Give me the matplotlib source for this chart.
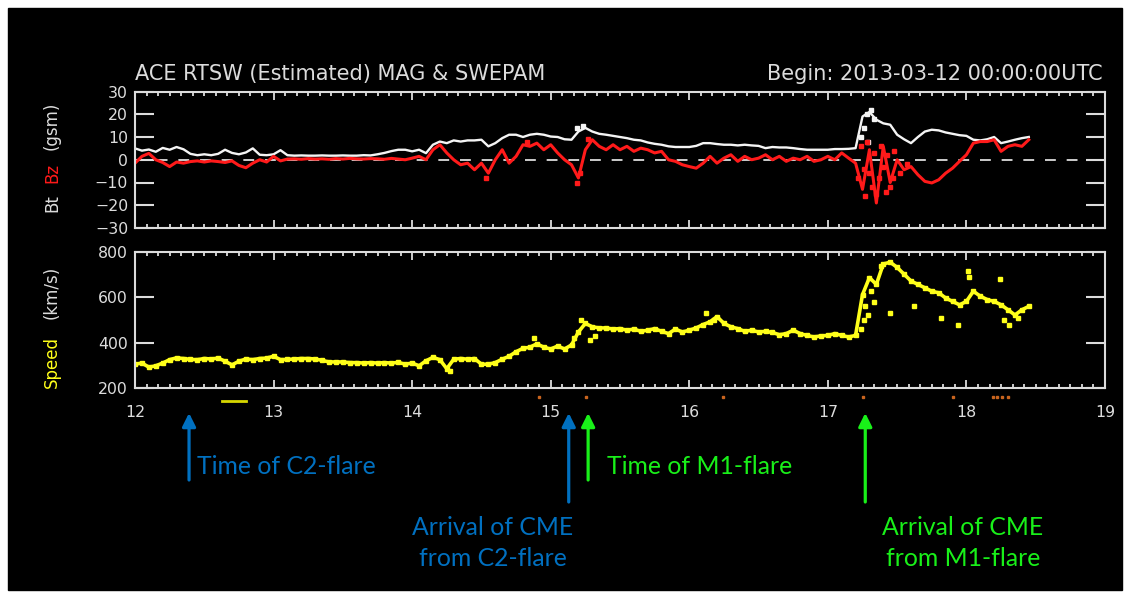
import numpy as np
import matplotlib.pyplot as plt
from matplotlib.patches import Rectangle
from matplotlib.ticker import MultipleLocator
from matplotlib.transforms import blended_transform_factory

# sample times: every 0.05 day from 2013-03-12 00:00
t_day = 12 + np.arange(130) / 20

bt = [5.0, 4.0, 4.5, 3.5, 5.2, 4.4, 5.6, 4.6, 2.6, 2.0,
      2.4, 2.0, 2.6, 4.4, 3.0, 2.4, 3.2, 5.0, 2.2, 2.0,
      2.4, 4.2, 2.0, 1.8, 1.9, 1.8, 1.8, 1.9, 1.8, 1.8,
      1.9, 1.8, 1.8, 2.0, 1.9, 2.4, 3.0, 3.8, 4.4, 4.4,
      3.7, 4.4, 2.9, 6.6, 8.0, 7.3, 8.5, 8.0, 8.5, 8.5,
      8.8, 5.9, 7.3, 9.5, 11.0, 11.0, 10.0, 11.0, 11.4, 11.0,
      10.2, 10.0, 9.0, 8.8, 12.4, 14.0, 12.4, 11.4, 11.0, 10.5,
      10.0, 9.5, 8.8, 8.5, 7.6, 7.0, 6.6, 5.9, 5.6, 5.6,
      5.6, 6.1, 7.3, 7.3, 6.9, 6.6, 6.6, 6.3, 6.6, 6.3,
      6.1, 5.1, 5.6, 5.4, 5.4, 5.1, 4.7, 4.4, 4.4, 4.4,
      4.4, 4.7, 4.7, 4.8, 5.1, 19.0, 21.0, 17.6, 16.0, 15.4,
      11.0, 9.0, 7.3, 10.0, 12.4, 13.2, 12.9, 12.0, 11.4, 10.8,
      10.5, 8.8, 8.5, 9.0, 10.0, 7.3, 8.0, 8.8, 9.5, 10.0]

bz = [-1.5, 1.5, 2.8, 0.0, -1.2, -3.0, -1.0, -1.5, -0.8, -0.5,
      -1.0, -0.5, -0.8, -1.2, -0.5, -2.5, -3.5, -1.5, 0.0, -1.0,
      1.5, -0.5, 0.3, 0.4, 0.2, 0.5, 0.3, 0.4, 0.2, 0.5,
      0.3, 0.6, 0.4, 0.3, 0.5, 0.4, 0.2, 0.6, 0.3, 0.0,
      0.7, 1.5, 0.0, 4.4, 6.6, 3.0, 0.0, -2.2, -1.5, -4.4,
      -1.5, -5.9, 0.0, 4.4, -1.5, 1.5, 6.6, 5.9, 7.3, 4.4,
      6.6, 3.0, 0.0, -2.2, -8.0, 4.4, 8.8, 5.9, 4.4, 6.6,
      4.4, 5.9, 3.7, 5.1, 4.4, 3.0, 3.7, 0.0, -0.7, -2.2,
      -3.0, -3.7, -1.5, 1.5, -1.5, 0.7, 2.2, -0.7, 1.5, 0.0,
      0.7, 2.2, 0.0, 1.5, -0.7, 0.7, 0.0, 1.5, -0.7, 0.0,
      1.5, 0.0, 3.0, 0.7, -1.5, -13.0, 4.4, -19.0, 5.9, -10.0,
      0.0, -4.4, -3.0, -6.6, -9.5, -10.2, -8.8, -5.9, -3.7, -0.7,
      2.2, 7.3, 8.0, 8.0, 8.8, 3.7, 5.9, 6.6, 5.9, 8.8]

speed = [305, 310, 292, 298, 310, 325, 333, 330, 326, 325,
         330, 328, 332, 318, 302, 318, 328, 325, 330, 332,
         340, 325, 326, 328, 330, 330, 328, 322, 315, 315,
         315, 312, 312, 310, 312, 310, 312, 310, 313, 305,
         310, 298, 320, 335, 325, 285, 327, 330, 327, 330,
         305, 305, 312, 327, 340, 360, 375, 380, 395, 380,
         372, 385, 372, 390, 447, 485, 470, 465, 465, 460,
         462, 455, 460, 450, 455, 462, 450, 440, 460, 447,
         455, 465, 480, 492, 515, 485, 470, 462, 450, 455,
         447, 450, 445, 435, 440, 455, 440, 432, 425, 430,
         432, 440, 432, 425, 432, 612, 687, 657, 747, 755,
         732, 702, 672, 657, 642, 627, 620, 597, 582, 567,
         582, 627, 605, 590, 582, 567, 545, 522, 545, 560]

# scattered single samples around the shock fronts
bt_spread_days = [15.19, 15.23, 17.24, 17.26, 17.28, 17.29, 17.31, 17.33]
bt_spread = [14, 15, 10, 14, 20, 8, 22, 18]
bz_spread_days = [14.53, 14.83, 15.19, 15.21, 15.27, 17.22, 17.24, 17.26, 17.27, 17.28,
                  17.3, 17.32, 17.33, 17.35, 17.37, 17.38, 17.4, 17.42, 17.43, 17.45,
                  17.47, 17.48, 17.52, 17.57]
bz_spread = [-8, 8, -10, -6, 9, -8, 6, -4, -16, 8,
             -6, -12, 3, -15, -8, 6, -3, -14, 2, -12,
             -8, 4, -6, -2]
v_spread_days = [14.27, 14.88, 15.17, 15.22, 15.28, 15.32, 16.12, 16.18, 17.24, 17.26,
                 17.27, 17.29, 17.31, 17.33, 17.38, 17.45, 17.62, 17.82, 17.94, 18.01,
                 18.02, 18.24, 18.27, 18.31, 18.37]
v_spread = [275, 420, 420, 500, 410, 430, 530, 500, 460, 500,
            560, 520, 630, 580, 740, 530, 560, 510, 477, 717,
            690, 680, 500, 480, 510]

# data-quality flags drawn under the speed axis
flag_days = [14.915, 15.255, 16.243, 17.254, 17.903, 18.19, 18.22, 18.26, 18.30]
gap_start, gap_end = 12.63, 12.80

# events (day of March 2013)
c2_flare, c2_arrival = 12.39, 15.13
m1_flare, m1_arrival = 15.27, 17.27

FG = "#dcdcdc"
RED = "#ff1a1a"
YEL = "#ffff1a"
BLUE = "#0070c0"
GREEN = "#19f019"

plt.rcParams.update({"font.family": "DejaVu Sans", "axes.linewidth": 1.5})

fig = plt.figure(figsize=(11.3, 5.95), dpi=100, facecolor="white")
fig.patches.append(Rectangle((8 / 1130, 5 / 595), 1114 / 1130, 582 / 595,
                             transform=fig.transFigure, color="black", zorder=-10))

ax1 = fig.add_axes([135 / 1130, 1 - 228 / 595, 970 / 1130, 136.5 / 595])
ax2 = fig.add_axes([135 / 1130, 1 - 388 / 595, 970 / 1130, 136 / 595])

for ax in (ax1, ax2):
    ax.set_facecolor("black")
    for s in ax.spines.values():
        s.set_color(FG)
    ax.set_xlim(12, 19)
    ax.xaxis.set_major_locator(MultipleLocator(1))
    ax.xaxis.set_minor_locator(MultipleLocator(1 / 12))
    ax.tick_params(axis="x", which="both", direction="in", top=True, bottom=True,
                   color=FG, labelcolor=FG, labelsize=11.3, pad=12)
    ax.tick_params(axis="x", which="major", length=6, width=1.3)
    ax.tick_params(axis="x", which="minor", length=3, width=1.3)
    ax.tick_params(axis="y", which="major", direction="in", left=True, right=True,
                   length=14, width=1.5, color=FG, labelcolor=FG, labelsize=11.3, pad=5)

# magnetic field panel
ax1.axhline(0, color=FG, lw=1.3, dashes=(6, 6))
ax1.plot(t_day, bt, color="#f4f4f4", lw=1.7)
ax1.plot(t_day, bz, color=RED, lw=2.2)
ax1.plot(bt_spread_days, bt_spread, ls="none", marker="s", ms=2.2, color="#f4f4f4")
ax1.plot(bz_spread_days, bz_spread, ls="none", marker="s", ms=2.4, color=RED)
ax1.set_ylim(-30, 30)
ax1.set_yticks([-30, -20, -10, 0, 10, 20, 30])
ax1.tick_params(axis="x", labelbottom=False)

# solar wind speed panel
ax2.plot(t_day, speed, color=YEL, lw=2.6, marker="s", ms=2.5)
ax2.plot(v_spread_days, v_spread, ls="none", marker="s", ms=2.2, color=YEL)
ax2.set_ylim(200, 800)
ax2.set_yticks([200, 400, 600, 800])

below = blended_transform_factory(ax2.transData, ax2.transAxes)
ax2.plot(flag_days, [-0.065] * len(flag_days), ls="none", marker="s", ms=2,
         color="#c8641e", transform=below, clip_on=False)
ax2.plot([gap_start, gap_end], [-0.095, -0.095], color="#d7d700", lw=2,
         transform=below, clip_on=False)

# headers and axis labels
fig.text(135 / 1130, 1 - 74 / 595, "ACE RTSW (Estimated) MAG & SWEPAM",
         color=FG, fontsize=15, va="center", ha="left")
fig.text(1103 / 1130, 1 - 74 / 595, "Begin: 2013-03-12 00:00:00UTC",
         color=FG, fontsize=15, va="center", ha="right")

lab = dict(rotation=90, fontsize=12, ha="center", va="center")
fig.text(52 / 1130, 1 - 203 / 595, "Bt", color=FG, **lab)
fig.text(52 / 1130, 1 - 173 / 595, "Bz", color=RED, **lab)
fig.text(52 / 1130, 1 - 126 / 595, "(gsm)", color=FG, **lab)
fig.text(52 / 1130, 1 - 362 / 595, "Speed", color=YEL, **lab)
fig.text(52 / 1130, 1 - 292 / 595, "(km/s)", color=FG, **lab)

# event arrows below the plot
def arrow(day, tail_px, color):
    ax2.annotate("", xy=(day, 595 - 413), xytext=(day, 595 - tail_px),
                 xycoords=("data", "figure pixels"), textcoords=("data", "figure pixels"),
                 annotation_clip=False,
                 arrowprops=dict(arrowstyle="-|>", color=color, lw=2.3,
                                 mutation_scale=20, shrinkA=0, shrinkB=0))

arrow(c2_flare, 480, BLUE)
arrow(c2_arrival, 502, BLUE)
arrow(m1_flare, 480, GREEN)
arrow(m1_arrival, 502, GREEN)

note = dict(fontsize=17.8, family="Lato", va="center")
fig.text(197 / 1130, 1 - 467 / 595, "Time of C2-flare", color=BLUE, ha="left", **note)
fig.text(607 / 1130, 1 - 467 / 595, "Time of M1-flare", color=GREEN, ha="left", **note)
fig.text(493 / 1130, 1 - 543 / 595, "Arrival of CME\nfrom C2-flare", color=BLUE,
         ha="center", linespacing=1.45, **note)
fig.text(963 / 1130, 1 - 543 / 595, "Arrival of CME\nfrom M1-flare", color=GREEN,
         ha="center", linespacing=1.45, **note)

fig.savefig("out.png", dpi=100, facecolor="white")
